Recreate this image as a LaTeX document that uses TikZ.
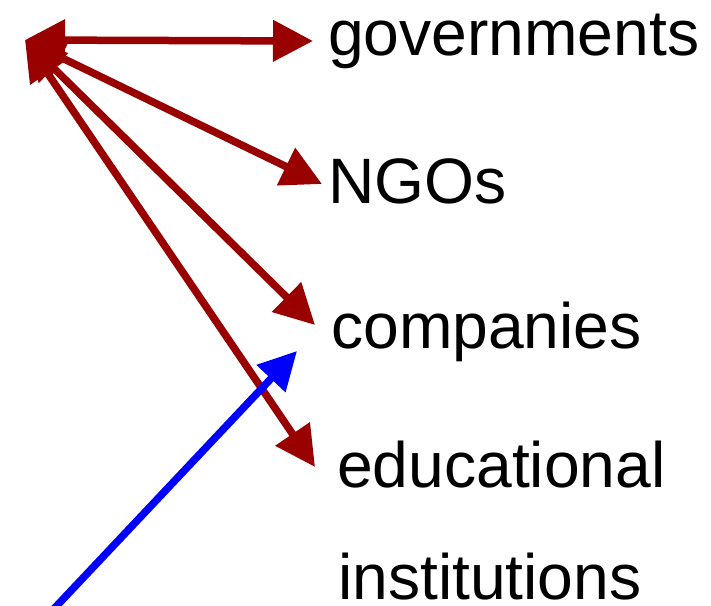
\documentclass[tikz,border=0pt]{standalone}
\usepackage{fontspec}
\setmainfont{Liberation Sans}
\usepackage{xcolor}
\usepackage{tikz}
\usetikzlibrary{arrows.meta}
\definecolor{linkred}{HTML}{990000}
\definecolor{pushblue}{HTML}{0000FF}
\tikzset{
  link/.style={draw=linkred, line width=7.5pt, line join=miter,
    {Triangle[length=40pt,width=40pt]}-{Triangle[length=40pt,width=40pt]}},
  push/.style={draw=pushblue, line width=7.5pt, -{Triangle[length=38pt,width=38pt]}},
  lab/.style={anchor=base west, inner sep=0pt, text=black, font=\fontsize{64.2}{70}\selectfont},
}

\begin{document}
\begin{tikzpicture}[x=1pt,y=-1pt]
  \clip (0,0) rectangle (711,605);
  \coordinate (hub) at (25,40);
  \coordinate (gov) at (313,41);
  \coordinate (ngo) at (322,184);
  \coordinate (com) at (315,325);
  \coordinate (edu) at (315,467);
  \coordinate (src) at (50,613);
  \coordinate (tip) at (297,351);
  \node[lab] (tgov) at (328,55) {governments};
  \node[lab] (tngo) at (328,203) {NGOs};
  \node[lab] (tcom) at (331,348) {companies};
  \node[lab] (tedu) at (337,487) {educational};
  \node[lab] (tins) at (338,599) {institutions};
  \draw[link] (hub) -- (gov);
  \draw[link] (hub) -- (ngo);
  \draw[link] (hub) -- (com);
  \draw[link] (hub) -- (edu);
  \draw[push] (src) -- (tip); % drawn on top
\end{tikzpicture}
\end{document}
